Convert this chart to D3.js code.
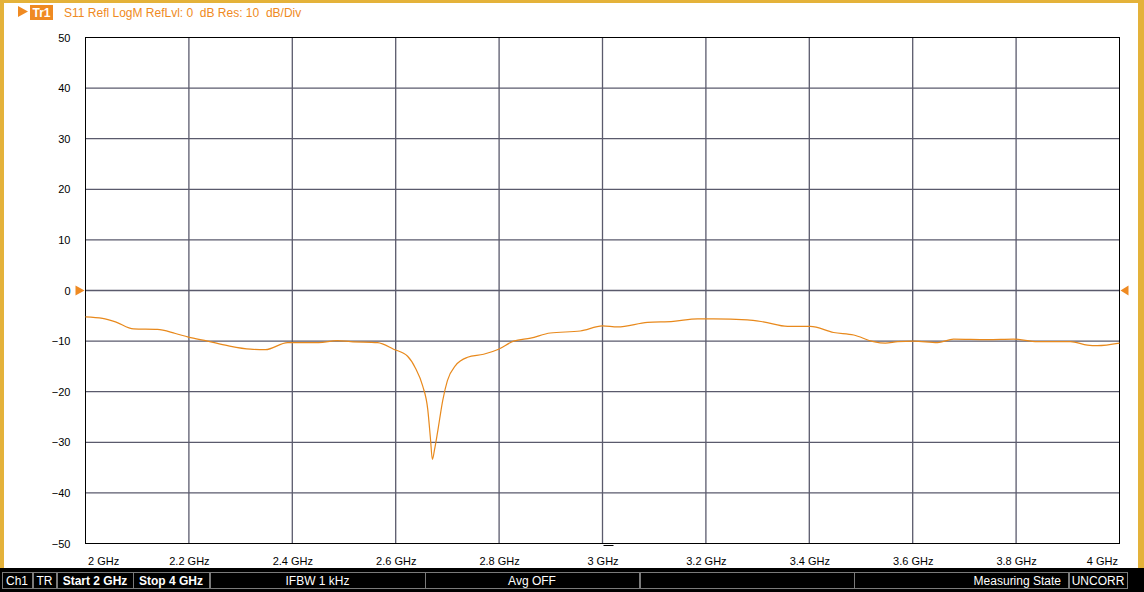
<!DOCTYPE html>
<html>
<head>
<meta charset="utf-8">
<script src="https://cdn.jsdelivr.net/npm/d3@7"></script>
<style>
  html, body { margin: 0; padding: 0; background: #ffffff; overflow: hidden; }
  svg { display: block; }
</style>
</head>
<body>
<script>
// trace (GHz, dB)
var freqGHz = [2.000, 2.033, 2.058, 2.093, 2.139, 2.174, 2.199, 2.236, 2.275, 2.319,
  2.348, 2.391, 2.451, 2.487, 2.513, 2.565, 2.596, 2.623, 2.638, 2.652,
  2.662, 2.667, 2.671, 2.675, 2.681, 2.691, 2.700, 2.716, 2.739, 2.770,
  2.799, 2.828, 2.861, 2.899, 2.957, 3.000, 3.029, 3.087, 3.137, 3.184,
  3.215, 3.280, 3.311, 3.358, 3.402, 3.447, 3.486, 3.524, 3.547, 3.571,
  3.602, 3.648, 3.679, 3.745, 3.795, 3.841, 3.905, 3.938, 3.957, 4.000];
var s11dB = [-5.2, -5.5, -6.2, -7.6, -7.7, -8.5, -9.2, -10.0, -10.9, -11.6,
  -11.7, -10.3, -10.3, -9.9, -10.1, -10.3, -11.6, -13.0, -15.3, -18.8,
  -23.5, -29.0, -33.4, -31.5, -28.0, -21.7, -17.8, -14.8, -13.2, -12.6,
  -11.6, -10.0, -9.4, -8.4, -8.0, -7.0, -7.2, -6.3, -6.1, -5.6,
  -5.6, -5.8, -6.2, -7.1, -7.1, -8.3, -8.8, -10.1, -10.4, -10.1,
  -10.0, -10.3, -9.6, -9.7, -9.6, -10.1, -10.1, -10.8, -10.9, -10.4];

var yTicks = [50, 40, 30, 20, 10, 0, -10, -20, -30, -40, -50];
var xTicks = [2, 2.2, 2.4, 2.6, 2.8, 3, 3.2, 3.4, 3.6, 3.8, 4];
var xTickLabels = ["2 GHz", "2.2 GHz", "2.4 GHz", "2.6 GHz", "2.8 GHz", "3 GHz",
  "3.2 GHz", "3.4 GHz", "3.6 GHz", "3.8 GHz", "4 GHz"];
var refLevel = 0;

var headerText = "S11 Refl LogM RefLvl: 0  dB Res: 10  dB/Div";
var statusCells = [
  { x0: 2, x1: 32, text: "Ch1", bold: false, align: "middle" },
  { x0: 33, x1: 56, text: "TR", bold: false, align: "middle" },
  { x0: 57, x1: 133, text: "Start 2 GHz", bold: true, align: "middle" },
  { x0: 133, x1: 209, text: "Stop 4 GHz", bold: true, align: "middle" },
  { x0: 210, x1: 425, text: "IFBW 1 kHz", bold: false, align: "middle" },
  { x0: 425, x1: 639, text: "Avg OFF", bold: false, align: "middle" },
  { x0: 640, x1: 854, text: "", bold: false, align: "middle" },
  { x0: 854, x1: 1068, text: "Measuring State", bold: false, align: "end" },
  { x0: 1069, x1: 1127, text: "UNCORR", bold: false, align: "middle" }
];

var width = 1144;
var height = 592;
var orange = "#ef8a22";
var gold = "#e4b23a";

var svg = d3.select("body").append("svg")
  .attr("width", width)
  .attr("height", height)
  .style("font-family", "'Liberation Sans', Arial, sans-serif");

svg.append("rect").attr("width", width).attr("height", height).attr("fill", "#ffffff");

// yellow frame
svg.append("rect").attr("x", 0).attr("y", 0).attr("width", 4).attr("height", 568).attr("fill", gold);
svg.append("rect").attr("x", 0).attr("y", 0).attr("width", width).attr("height", 3).attr("fill", gold);
svg.append("rect").attr("x", 1138).attr("y", 0).attr("width", 6).attr("height", 568).attr("fill", gold);

var x = d3.scaleLinear().domain([2, 4]).range([85.5, 1119.5]);
var y = d3.scaleLinear().domain([-50, 50]).range([543.5, 37.5]);

// grid
var grid = svg.append("g");
grid.selectAll("line.v")
  .data(xTicks.slice(1, -1))
  .enter().append("line")
  .attr("x1", d => x(d)).attr("x2", d => x(d))
  .attr("y1", y(50)).attr("y2", y(-50))
  .attr("stroke", "#5a5a6c").attr("stroke-width", 1.3);
grid.selectAll("line.h")
  .data(yTicks.slice(1, -1))
  .enter().append("line")
  .attr("x1", x(2)).attr("x2", x(4))
  .attr("y1", d => y(d)).attr("y2", d => y(d))
  .attr("stroke", "#5a5a6c").attr("stroke-width", 1.3);

svg.append("rect")
  .attr("x", x(2)).attr("y", y(50))
  .attr("width", x(4) - x(2)).attr("height", y(-50) - y(50))
  .attr("fill", "none").attr("stroke", "#000").attr("stroke-width", 1);

// y axis labels
var yAxis = d3.axisLeft(y).tickValues(yTicks).tickSize(0).tickPadding(15).tickFormat(d3.format("d"));
var gy = svg.append("g").attr("transform", "translate(" + x(2) + ",0)").call(yAxis);
gy.select(".domain").remove();
gy.selectAll("text").attr("font-size", 11).attr("fill", "#000").style("font-family", "'Liberation Sans', Arial, sans-serif");

// x axis labels
var xAxis = d3.axisBottom(x).tickValues(xTicks).tickSize(0).tickPadding(14)
  .tickFormat((d, i) => xTickLabels[i]);
var gx = svg.append("g").attr("transform", "translate(0," + y(-50) + ")").call(xAxis);
gx.select(".domain").remove();
gx.selectAll("text").attr("font-size", 11).attr("fill", "#000").style("font-family", "'Liberation Sans', Arial, sans-serif")
  .attr("text-anchor", (d, i) => i === 0 ? "start" : (i === xTicks.length - 1 ? "end" : "middle"))
  .attr("dx", (d, i) => i === 0 ? 2 : (i === xTicks.length - 1 ? -2 : 0));

// small marker below centre
svg.append("line")
  .attr("x1", x(3) + 1).attr("x2", x(3) + 11)
  .attr("y1", 545.5).attr("y2", 545.5)
  .attr("stroke", "#000").attr("stroke-width", 1);

// trace
var pts = freqGHz.map((f, i) => [f, s11dB[i]]);
var line = d3.line().x(d => x(d[0])).y(d => y(d[1])).curve(d3.curveMonotoneX);
svg.append("path")
  .datum(pts)
  .attr("d", line)
  .attr("fill", "none")
  .attr("stroke", "#e8891c")
  .attr("stroke-width", 1.2);

// reference level markers
var ry = y(refLevel);
svg.append("path")
  .attr("d", "M" + (x(2) - 10) + "," + (ry - 5) + "L" + (x(2) - 1) + "," + ry + "L" + (x(2) - 10) + "," + (ry + 5) + "Z")
  .attr("fill", orange);
svg.append("path")
  .attr("d", "M" + (x(4) + 9) + "," + (ry - 5) + "L" + (x(4) + 1) + "," + ry + "L" + (x(4) + 9) + "," + (ry + 5) + "Z")
  .attr("fill", orange);

// header
svg.append("path").attr("d", "M18,6L28,11.5L18,17Z").attr("fill", orange);
svg.append("rect").attr("x", 30).attr("y", 5).attr("width", 23).attr("height", 15).attr("fill", orange);
svg.append("text").attr("x", 41.5).attr("y", 17).attr("text-anchor", "middle")
  .attr("font-size", 12).attr("font-weight", "bold").attr("fill", "#fff").text("Tr1");
svg.append("text").attr("x", 64).attr("y", 17)
  .attr("font-size", 12).attr("fill", orange).style("white-space", "pre").text(headerText);

// status bar
var bar = svg.append("g");
bar.append("rect").attr("x", 0).attr("y", 568).attr("width", width).attr("height", 24).attr("fill", "#000");
bar.selectAll("rect.cell")
  .data(statusCells)
  .enter().append("rect")
  .attr("x", d => d.x0 + 0.5).attr("y", 572.5)
  .attr("width", d => d.x1 - d.x0).attr("height", 16)
  .attr("fill", "none").attr("stroke", "#7a7a7a").attr("stroke-width", 1);
bar.selectAll("text")
  .data(statusCells)
  .enter().append("text")
  .attr("x", d => d.align === "end" ? d.x1 - 7 : (d.x0 + d.x1) / 2)
  .attr("y", 585)
  .attr("text-anchor", d => d.align)
  .attr("font-size", 12)
  .attr("font-weight", d => d.bold ? "bold" : "normal")
  .attr("fill", "#fff")
  .text(d => d.text);
</script>
</body>
</html>
